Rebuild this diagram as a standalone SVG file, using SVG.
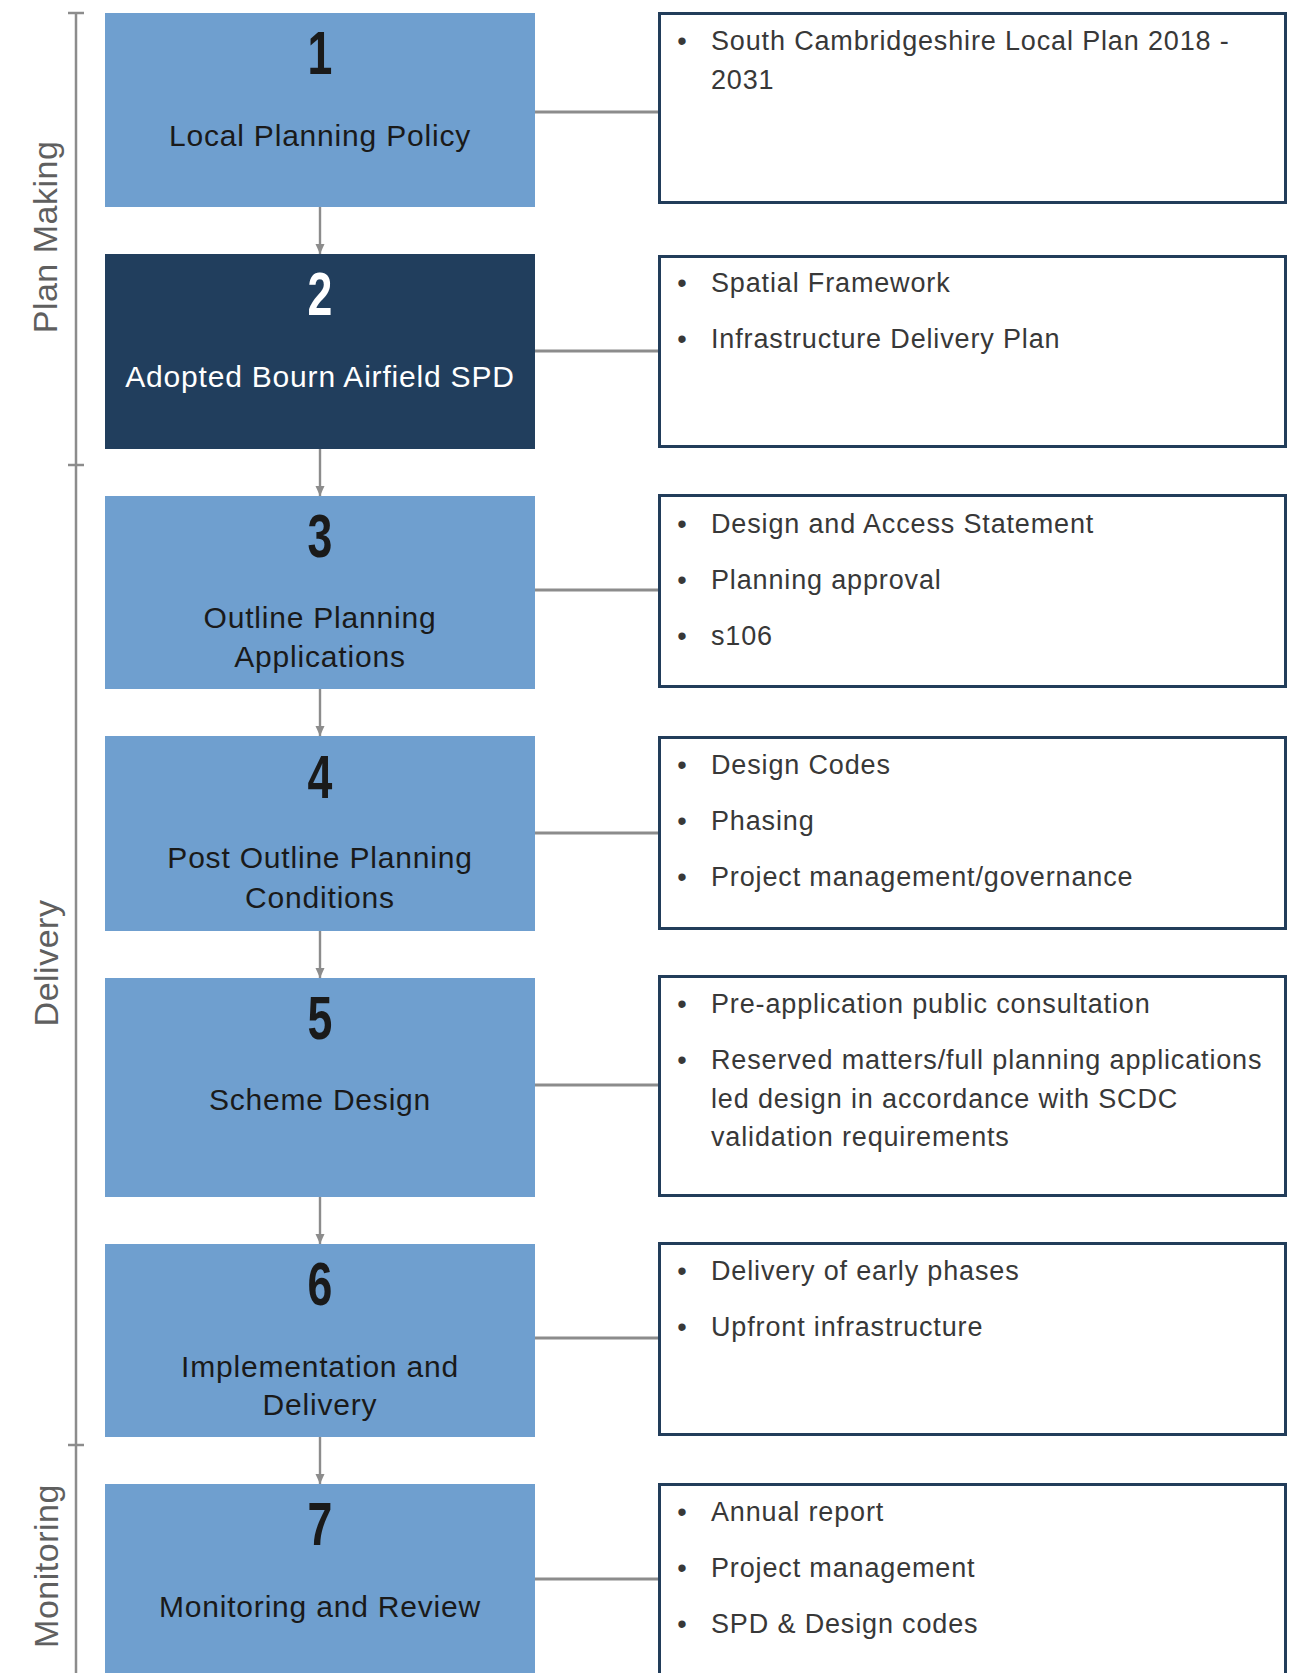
<svg xmlns="http://www.w3.org/2000/svg" width="1300" height="1673" viewBox="0 0 1300 1673">
  <style>
    .step { fill: #6f9fcf; }
    .step-dark { fill: #213e5d; }
    .num { font-family: "Liberation Sans", Arial, sans-serif; font-weight: bold; font-size: 62px; fill: #1a1a1a; text-anchor: middle; }
    .num-w { fill: #ffffff; }
    .lbl { font-family: "Liberation Sans", Arial, sans-serif; font-size: 30px; letter-spacing: 0.8px; fill: #1a1a1a; text-anchor: middle; }
    .lbl-w { fill: #ffffff; }
    .info { fill: #ffffff; stroke: #223d5a; stroke-width: 3; }
    .item { font-family: "Liberation Sans", Arial, sans-serif; font-size: 27px; letter-spacing: 0.85px; fill: #383838; }
    .bul { font-family: "Liberation Sans", Arial, sans-serif; font-size: 27px; fill: #383838; text-anchor: middle; }
    .side { font-family: "Liberation Sans", Arial, sans-serif; font-size: 34px; letter-spacing: 0.5px; fill: #5f5f5f; text-anchor: middle; }
    .conn { stroke: #8c8c8c; stroke-width: 3; fill: none; }
    .flow { stroke: #8c8c8c; stroke-width: 2.4; fill: none; }
    .brk { stroke: #8c8c8c; stroke-width: 2.5; fill: none; }
  </style>
  <defs>
    <marker id="ah" markerUnits="userSpaceOnUse" markerWidth="12" markerHeight="10" refX="10" refY="5" orient="auto">
      <path d="M0,0.5 L10,5 L0,9.5 Z" fill="#8c8c8c"/>
    </marker>
  </defs>
  <rect width="1300" height="1673" fill="#ffffff"/>

  <!-- phase bracket -->
  <g id="phase-bracket">
    <line class="brk" x1="76" y1="13" x2="76" y2="1673"/>
    <line class="brk" x1="68" y1="13" x2="84" y2="13"/>
    <line class="brk" x1="68" y1="465" x2="84" y2="465"/>
    <line class="brk" x1="68" y1="1445" x2="84" y2="1445"/>
    <text class="side" transform="translate(57,237) rotate(-90)">Plan Making</text>
    <text class="side" transform="translate(58,963) rotate(-90)">Delivery</text>
    <text class="side" transform="translate(58,1566) rotate(-90)">Monitoring</text>
  </g>

  <!-- connectors -->
  <g id="connectors">
    <line class="flow" x1="320" y1="207" x2="320" y2="254" marker-end="url(#ah)"/>
    <line class="flow" x1="320" y1="449" x2="320" y2="496" marker-end="url(#ah)"/>
    <line class="flow" x1="320" y1="689" x2="320" y2="736" marker-end="url(#ah)"/>
    <line class="flow" x1="320" y1="931" x2="320" y2="978" marker-end="url(#ah)"/>
    <line class="flow" x1="320" y1="1197" x2="320" y2="1244" marker-end="url(#ah)"/>
    <line class="flow" x1="320" y1="1437" x2="320" y2="1484" marker-end="url(#ah)"/>
    <line class="conn" x1="535" y1="112" x2="659" y2="112"/>
    <line class="conn" x1="535" y1="351" x2="659" y2="351"/>
    <line class="conn" x1="535" y1="590" x2="659" y2="590"/>
    <line class="conn" x1="535" y1="833" x2="659" y2="833"/>
    <line class="conn" x1="535" y1="1085" x2="659" y2="1085"/>
    <line class="conn" x1="535" y1="1338" x2="659" y2="1338"/>
    <line class="conn" x1="535" y1="1579" x2="659" y2="1579"/>
  </g>

  <!-- step nodes -->
  <g id="step1">
    <rect class="step" x="105" y="13" width="430" height="194"/>
    <text class="num" transform="translate(320,74) scale(0.72,1)">1</text>
    <text class="lbl" x="320" y="146">Local Planning Policy</text>
  </g>
  <g id="step2">
    <rect class="step-dark" x="105" y="254" width="430" height="195"/>
    <text class="num num-w" transform="translate(320,315) scale(0.72,1)">2</text>
    <text class="lbl lbl-w" x="320" y="387">Adopted Bourn Airfield SPD</text>
  </g>
  <g id="step3">
    <rect class="step" x="105" y="496" width="430" height="193"/>
    <text class="num" transform="translate(320,557) scale(0.72,1)">3</text>
    <text class="lbl" x="320" y="628">Outline Planning</text>
    <text class="lbl" x="320" y="667">Applications</text>
  </g>
  <g id="step4">
    <rect class="step" x="105" y="736" width="430" height="195"/>
    <text class="num" transform="translate(320,798) scale(0.72,1)">4</text>
    <text class="lbl" x="320" y="868">Post Outline Planning</text>
    <text class="lbl" x="320" y="908">Conditions</text>
  </g>
  <g id="step5">
    <rect class="step" x="105" y="978" width="430" height="219"/>
    <text class="num" transform="translate(320,1039) scale(0.72,1)">5</text>
    <text class="lbl" x="320" y="1110">Scheme Design</text>
  </g>
  <g id="step6">
    <rect class="step" x="105" y="1244" width="430" height="193"/>
    <text class="num" transform="translate(320,1305) scale(0.72,1)">6</text>
    <text class="lbl" x="320" y="1377">Implementation and</text>
    <text class="lbl" x="320" y="1415">Delivery</text>
  </g>
  <g id="step7">
    <rect class="step" x="105" y="1484" width="430" height="200"/>
    <text class="num" transform="translate(320,1545) scale(0.72,1)">7</text>
    <text class="lbl" x="320" y="1617">Monitoring and Review</text>
  </g>

  <!-- info nodes -->
  <g id="info1">
    <rect class="info" x="659.5" y="13.5" width="626" height="189"/>
    <text class="bul" x="682" y="50">•</text>
    <text class="item" x="711" y="50">South Cambridgeshire Local Plan 2018 -</text>
    <text class="item" x="711" y="89">2031</text>
  </g>
  <g id="info2">
    <rect class="info" x="659.5" y="256.5" width="626" height="190"/>
    <text class="bul" x="682" y="292">•</text>
    <text class="item" x="711" y="292">Spatial Framework</text>
    <text class="bul" x="682" y="348">•</text>
    <text class="item" x="711" y="348">Infrastructure Delivery Plan</text>
  </g>
  <g id="info3">
    <rect class="info" x="659.5" y="495.5" width="626" height="191"/>
    <text class="bul" x="682" y="533">•</text>
    <text class="item" x="711" y="533">Design and Access Statement</text>
    <text class="bul" x="682" y="589">•</text>
    <text class="item" x="711" y="589">Planning approval</text>
    <text class="bul" x="682" y="645">•</text>
    <text class="item" x="711" y="645">s106</text>
  </g>
  <g id="info4">
    <rect class="info" x="659.5" y="737.5" width="626" height="191"/>
    <text class="bul" x="682" y="774">•</text>
    <text class="item" x="711" y="774">Design Codes</text>
    <text class="bul" x="682" y="830">•</text>
    <text class="item" x="711" y="830">Phasing</text>
    <text class="bul" x="682" y="886">•</text>
    <text class="item" x="711" y="886">Project management/governance</text>
  </g>
  <g id="info5">
    <rect class="info" x="659.5" y="976.5" width="626" height="219"/>
    <text class="bul" x="682" y="1013">•</text>
    <text class="item" x="711" y="1013">Pre-application public consultation</text>
    <text class="bul" x="682" y="1069">•</text>
    <text class="item" x="711" y="1069">Reserved matters/full planning applications</text>
    <text class="item" x="711" y="1107.5">led design in accordance with SCDC</text>
    <text class="item" x="711" y="1146">validation requirements</text>
  </g>
  <g id="info6">
    <rect class="info" x="659.5" y="1243.5" width="626" height="191"/>
    <text class="bul" x="682" y="1280">•</text>
    <text class="item" x="711" y="1280">Delivery of early phases</text>
    <text class="bul" x="682" y="1336">•</text>
    <text class="item" x="711" y="1336">Upfront infrastructure</text>
  </g>
  <g id="info7">
    <rect class="info" x="659.5" y="1484.5" width="626" height="250"/>
    <text class="bul" x="682" y="1521">•</text>
    <text class="item" x="711" y="1521">Annual report</text>
    <text class="bul" x="682" y="1577">•</text>
    <text class="item" x="711" y="1577">Project management</text>
    <text class="bul" x="682" y="1633">•</text>
    <text class="item" x="711" y="1633">SPD &amp; Design codes</text>
  </g>
</svg>
